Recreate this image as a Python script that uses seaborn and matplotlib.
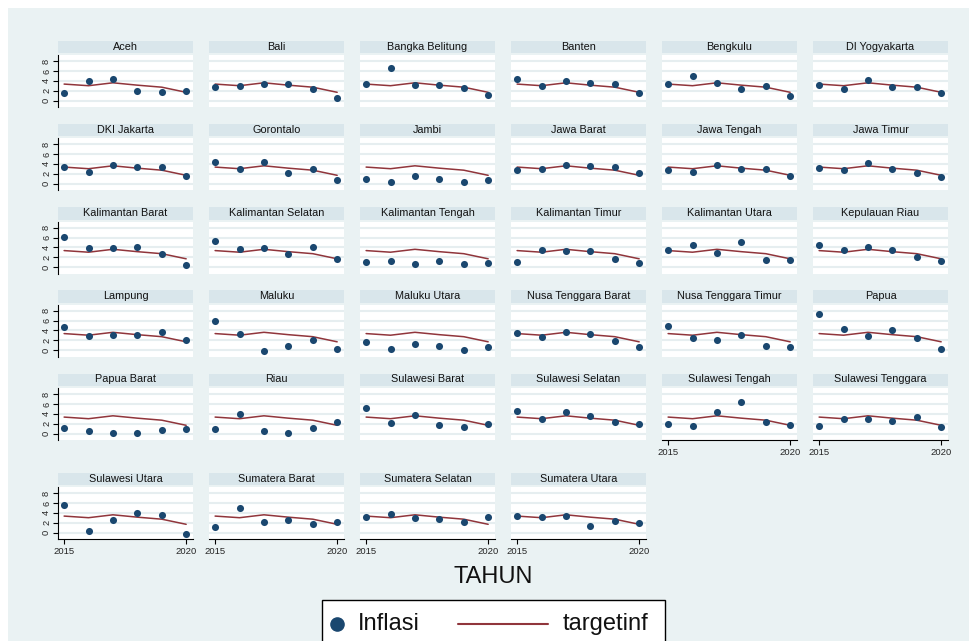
import matplotlib
matplotlib.use("Agg")
import matplotlib.pyplot as plt
import matplotlib.patches as mpatches
from matplotlib.lines import Line2D
import numpy as np
import pandas as pd
import seaborn as sns

# ---------------- data ----------------
provinsi = ["Aceh", "Bali", "Bangka Belitung", "Banten", "Bengkulu", "DI Yogyakarta",
            "DKI Jakarta", "Gorontalo", "Jambi", "Jawa Barat", "Jawa Tengah", "Jawa Timur",
            "Kalimantan Barat", "Kalimantan Selatan", "Kalimantan Tengah", "Kalimantan Timur",
            "Kalimantan Utara", "Kepulauan Riau", "Lampung", "Maluku", "Maluku Utara",
            "Nusa Tenggara Barat", "Nusa Tenggara Timur", "Papua", "Papua Barat", "Riau",
            "Sulawesi Barat", "Sulawesi Selatan", "Sulawesi Tengah", "Sulawesi Tenggara",
            "Sulawesi Utara", "Sumatera Barat", "Sumatera Selatan", "Sumatera Utara"]
tahun = [2015, 2016, 2017, 2018, 2019, 2020]
targetinf = [3.35, 3.02, 3.61, 3.13, 2.72, 1.68]

infl_2015 = [1.6, 2.7, 3.3, 4.3, 3.3, 3.1, 3.35, 4.3, 1.0, 2.8, 2.8, 3.15,
             6.2, 5.2, 1.0, 1.0, 3.5, 4.4, 4.6, 6.0, 1.6, 3.4, 4.9, 7.3,
             1.1, 1.0, 5.1, 4.5, 2.0, 1.6, 5.6, 1.1, 3.15, 3.3]
infl_2016 = [3.9, 2.9, 6.7, 3.0, 5.0, 2.3, 2.4, 2.9, 0.3, 2.9, 2.4, 2.8,
             3.9, 3.6, 1.3, 3.4, 4.4, 3.5, 2.8, 3.3, 0.3, 2.6, 2.5, 4.2,
             0.6, 4.0, 2.2, 2.9, 1.5, 3.0, 0.35, 5.0, 3.7, 3.1]
infl_2017 = [4.3, 3.3, 3.1, 4.0, 3.6, 4.2, 3.8, 4.4, 1.5, 3.7, 3.8, 4.1,
             3.9, 3.9, 0.7, 3.2, 2.8, 4.1, 3.1, -0.1, 1.3, 3.7, 2.0, 2.85,
             0.2, 0.5, 3.8, 4.45, 4.3, 2.95, 2.5, 2.05, 3.0, 3.3]
infl_2018 = [1.9, 3.4, 3.2, 3.5, 2.3, 2.7, 3.3, 2.2, 1.0, 3.6, 2.9, 2.9,
             4.0, 2.65, 1.2, 3.3, 5.0, 3.5, 3.0, 0.9, 0.8, 3.2, 3.1, 4.0,
             0.2, 0.2, 1.8, 3.6, 6.5, 2.5, 3.9, 2.6, 2.8, 1.3]
infl_2019 = [1.7, 2.3, 2.6, 3.3, 2.9, 2.7, 3.3, 2.9, 0.4, 3.3, 2.9, 2.1,
             2.65, 4.0, 0.7, 1.7, 1.5, 2.0, 3.6, 2.1, 0.1, 1.9, 0.75, 2.4,
             0.7, 1.2, 1.4, 2.3, 2.3, 3.3, 3.6, 1.7, 2.05, 2.3]
infl_2020 = [1.9, 0.6, 1.1, 1.5, 0.9, 1.5, 1.6, 0.8, 0.8, 2.2, 1.6, 1.4,
             0.4, 1.7, 0.8, 0.8, 1.4, 1.2, 2.0, 0.2, 0.7, 0.6, 0.7, 0.3,
             1.0, 2.4, 1.9, 2.0, 1.8, 1.3, -0.2, 2.1, 3.1, 2.0]

y_ticks = [0, 2, 4, 6, 8]
x_ticks = [2015, 2020]

# long table
per_year = [infl_2015, infl_2016, infl_2017, infl_2018, infl_2019, infl_2020]
rows = []
for pi, p in enumerate(provinsi):
    for yi, t in enumerate(tahun):
        rows.append({"provinsi": p, "tahun": t, "Inflasi": per_year[yi][pi],
                     "targetinf": targetinf[yi]})
df = pd.DataFrame(rows)

# ---------------- style ----------------
sns.set_theme(style="white")
plt.rcParams["font.family"] = ["Liberation Sans", "DejaVu Sans"]

BG = "#eaf2f3"
STRIP = "#d9e6eb"
GRID = "#e6eef0"
NAVY = "#1a476f"
MAROON = "#90353b"

W, H = 969, 641
fig = plt.figure(figsize=(W / 100, H / 100), dpi=100, facecolor="white")
fig.patches.append(mpatches.Rectangle((8 / W, 0), 1, 1 - 8 / H, transform=fig.transFigure,
                                      facecolor=BG, edgecolor="none", zorder=-10))

col_left = [58, 209, 360, 511, 662, 813]
strip_top = [41, 124, 207.5, 290.5, 374, 473]
pw, ph = 135, 52
bottom_panels = {28, 29, 30, 31, 32, 33}

for i, p in enumerate(provinsi):
    r, c = divmod(i, 6)
    top = strip_top[r] + 14
    ax = fig.add_axes([col_left[c] / W, 1 - (top + ph) / H, pw / W, ph / H])
    ax.set_facecolor("white")
    sub = df[df["provinsi"] == p]
    for gy in y_ticks:
        ax.axhline(gy, color=GRID, lw=1.5, zorder=0)
    sns.lineplot(data=sub, x="tahun", y="targetinf", color=MAROON, lw=1.1, ax=ax,
                 legend=False, zorder=2)
    sns.scatterplot(data=sub, x="tahun", y="Inflasi", color=NAVY, s=26, linewidth=0,
                    ax=ax, legend=False, zorder=3)
    ax.set_xlim(2014.75, 2020.28)
    ax.set_ylim(-1.3, 9.25)
    ax.set_xlabel("")
    ax.set_ylabel("")
    for s in ax.spines.values():
        s.set_visible(False)
    # strip
    ax.add_patch(mpatches.Rectangle((0, 54 / ph), 1, 12.5 / ph, transform=ax.transAxes,
                                    facecolor=STRIP, edgecolor="none", clip_on=False))
    ax.text(0.5, (54 + 6.5) / ph, p, transform=ax.transAxes, ha="center", va="center",
            fontsize=7.8, color="#111111")
    # y axis
    if c == 0:
        ax.spines["left"].set_visible(True)
        ax.spines["left"].set_color("black")
        ax.spines["left"].set_linewidth(0.8)
        ax.set_yticks(y_ticks)
        ax.set_yticklabels([str(v) for v in y_ticks], rotation=90, va="center",
                           fontsize=6.7)
        ax.tick_params(axis="y", left=True, length=3.5, width=0.8, pad=1.5, color="black")
    else:
        ax.set_yticks([])
    # x axis
    if i in bottom_panels:
        ax.spines["bottom"].set_visible(True)
        ax.spines["bottom"].set_color("black")
        ax.spines["bottom"].set_linewidth(0.8)
        ax.set_xticks(x_ticks)
        ax.set_xticklabels([str(v) for v in x_ticks], fontsize=6.8)
        ax.tick_params(axis="x", bottom=True, length=3.5, width=0.8, pad=2.5, color="black")
    else:
        ax.set_xticks([])

fig.text(493 / W, 1 - 577 / H, "TAHUN", ha="center", va="center", fontsize=17,
         color="#111111")

# legend box
fig.patches.append(mpatches.Rectangle((322 / W, -0.05), 343 / W, (641 - 600) / H + 0.05,
                                      transform=fig.transFigure, facecolor="white",
                                      edgecolor="black", linewidth=1.0, zorder=5))
ly = 1 - 624 / H
fig.lines.append(Line2D([337 / W], [ly], marker="o", markersize=9.5, color=NAVY,
                        linestyle="none", transform=fig.transFigure, zorder=6))
fig.text(358 / W, ly, "Inflasi", ha="left", va="center", fontsize=17, color="#111111",
         zorder=6)
fig.lines.append(Line2D([458 / W, 548 / W], [ly, ly], color=MAROON, lw=1.5,
                        transform=fig.transFigure, zorder=6))
fig.text(563 / W, ly, "targetinf", ha="left", va="center", fontsize=17, color="#111111",
         zorder=6)

fig.savefig("out.png", dpi=100, facecolor=fig.get_facecolor())
